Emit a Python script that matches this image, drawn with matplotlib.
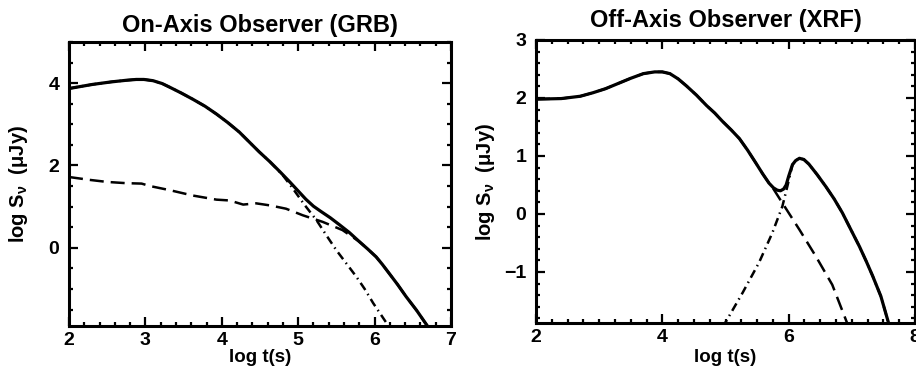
import matplotlib
matplotlib.use('Agg')
import matplotlib.pyplot as plt
from matplotlib.ticker import MultipleLocator

plt.rcParams['font.family'] = ['Liberation Sans', 'DejaVu Sans']
plt.rcParams['font.weight'] = 'bold'
plt.rcParams['mathtext.fontset'] = 'custom'
plt.rcParams['mathtext.rm'] = 'Liberation Sans:bold'
plt.rcParams['mathtext.it'] = 'Liberation Sans:bold'
plt.rcParams['axes.unicode_minus'] = True

# on-axis (GRB) curves
on_total_x = [2.0, 2.31, 2.55, 2.75, 2.88, 2.98, 3.1, 3.22, 3.32, 3.47, 3.62, 3.78, 3.93,
              4.08, 4.23, 4.36, 4.49, 4.63, 4.76, 4.89, 5.0, 5.1, 5.2, 5.3, 5.42, 5.54,
              5.67, 5.8, 5.91, 6.02, 6.1, 6.19, 6.3, 6.41, 6.55, 6.71]
on_total_y = [3.87, 3.97, 4.03, 4.07, 4.09, 4.09, 4.06, 3.99, 3.9, 3.76, 3.61, 3.44, 3.25,
              3.04, 2.81, 2.57, 2.33, 2.09, 1.85, 1.6, 1.38, 1.18, 1.01, 0.88, 0.73, 0.56,
              0.37, 0.15, -0.03, -0.22, -0.4, -0.62, -0.89, -1.18, -1.52, -1.95]
on_dash_x = [2.0, 2.27, 2.5, 2.75, 2.95, 3.06, 3.32, 3.62, 3.93, 4.1, 4.28, 4.45, 4.63,
             4.84, 5.06, 5.32, 5.58, 5.8, 5.91, 6.02, 6.1, 6.19, 6.3, 6.41, 6.55, 6.71]
on_dash_y = [1.72, 1.65, 1.6, 1.57, 1.56, 1.5, 1.4, 1.27, 1.17, 1.15, 1.05, 1.08, 1.03,
             0.95, 0.79, 0.63, 0.43, 0.15, -0.03, -0.22, -0.4, -0.62, -0.89, -1.18, -1.52,
             -1.95]
on_dd_x = [2.0, 2.31, 2.55, 2.75, 2.88, 2.98, 3.1, 3.22, 3.32, 3.47, 3.62, 3.78, 3.93,
           4.08, 4.23, 4.36, 4.49, 4.63, 4.8, 4.93, 5.08, 5.24, 5.37, 5.5, 5.63, 5.76,
           5.87, 5.98, 6.2]
on_dd_y = [3.87, 3.97, 4.03, 4.07, 4.09, 4.09, 4.06, 3.99, 3.9, 3.76, 3.61, 3.44, 3.25,
           3.04, 2.81, 2.57, 2.33, 2.09, 1.76, 1.44, 1.05, 0.67, 0.3, -0.06, -0.38, -0.7,
           -1.0, -1.34, -1.95]

# off-axis (XRF) curves
off_total_x = [2.0, 2.4, 2.7, 2.9, 3.1, 3.3, 3.5, 3.7, 3.88, 4.0, 4.12, 4.25, 4.38, 4.54,
               4.7, 4.83, 4.95, 5.09, 5.22, 5.35, 5.48, 5.59, 5.69, 5.76, 5.82, 5.87,
               5.92, 5.96, 6.0, 6.06, 6.11, 6.17, 6.24, 6.32, 6.45, 6.59, 6.72, 6.85,
               6.98, 7.12, 7.23, 7.33, 7.46, 7.6]
off_total_y = [1.98, 1.99, 2.03, 2.09, 2.16, 2.25, 2.34, 2.42, 2.45, 2.45, 2.42, 2.33, 2.21,
               2.05, 1.87, 1.74, 1.6, 1.45, 1.3, 1.1, 0.88, 0.69, 0.53, 0.45, 0.41, 0.4,
               0.43, 0.5, 0.65, 0.85, 0.92, 0.96, 0.94, 0.86, 0.68, 0.47, 0.26, 0.02,
               -0.26, -0.56, -0.82, -1.07, -1.42, -1.95]
off_dash_x = [2.0, 2.4, 2.7, 2.9, 3.1, 3.3, 3.5, 3.7, 3.88, 4.0, 4.12, 4.25, 4.38, 4.54,
              4.7, 4.83, 4.95, 5.09, 5.22, 5.35, 5.48, 5.59, 5.69, 5.76, 5.9, 6.17,
              6.43, 6.69, 6.95]
off_dash_y = [1.98, 1.99, 2.03, 2.09, 2.16, 2.25, 2.34, 2.42, 2.45, 2.45, 2.42, 2.33, 2.21,
              2.05, 1.87, 1.74, 1.6, 1.45, 1.3, 1.1, 0.88, 0.69, 0.53, 0.43, 0.19, -0.27,
              -0.73, -1.22, -1.95]
off_dd_x = [4.95, 5.01, 5.27, 5.53, 5.74, 5.9, 5.98, 6.06, 6.11, 6.17, 6.24, 6.32, 6.45,
            6.59, 6.72, 6.85, 6.98, 7.12, 7.23, 7.33, 7.46, 7.6]
off_dd_y = [-1.95, -1.85, -1.36, -0.84, -0.33, 0.13, 0.48, 0.85, 0.92, 0.96, 0.94, 0.86,
            0.68, 0.47, 0.26, 0.02, -0.26, -0.56, -0.82, -1.07, -1.42, -1.95]

fig = plt.figure(figsize=(9.16, 3.72), dpi=100)
ax1 = fig.add_axes([69/916, 1-326/372, 382/916, 284/372])
ax2 = fig.add_axes([536/916, 1-323/372, 379/916, 283/372])

dash = (0, (5.6, 2.8))
dashdot = (0, (3.4, 1.8, 0.6, 1.8))

ax1.plot(on_dd_x, on_dd_y, color='black', lw=1.8, ls=dashdot, zorder=2)
ax1.plot(on_dash_x, on_dash_y, color='black', lw=1.8, ls=dash, zorder=3)
ax1.plot(on_total_x, on_total_y, color='black', lw=2.3, zorder=4)

ax2.plot(off_dd_x, off_dd_y, color='black', lw=1.8, ls=dashdot, zorder=2)
ax2.plot(off_dash_x, off_dash_y, color='black', lw=1.8, ls=dash, zorder=3)
ax2.plot(off_total_x, off_total_y, color='black', lw=2.3, zorder=4)

ax1.set_xlim(2, 7)
ax1.set_ylim(-1.9, 5)
ax1.xaxis.set_major_locator(MultipleLocator(1))
ax1.xaxis.set_minor_locator(MultipleLocator(0.2))
ax1.yaxis.set_major_locator(MultipleLocator(2))
ax1.yaxis.set_minor_locator(MultipleLocator(0.5))

ax2.set_xlim(2, 8)
ax2.set_ylim(-1.88, 3)
ax2.xaxis.set_major_locator(MultipleLocator(2))
ax2.xaxis.set_minor_locator(MultipleLocator(0.25))
ax2.yaxis.set_major_locator(MultipleLocator(1))
ax2.yaxis.set_minor_locator(MultipleLocator(0.2))

for ax in (ax1, ax2):
    for s in ax.spines.values():
        s.set_linewidth(2.2)
    ax.tick_params(which='both', direction='in', top=True, right=True, width=1.6)
    ax.tick_params(which='major', length=6.5, labelsize=14)
    ax.tick_params(which='minor', length=3.2)
    ax.tick_params(axis='y', pad=7)
    ax.tick_params(axis='x', pad=4)
    ax.set_xlabel('log t(s)', fontsize=13.5, fontweight='bold')
    ax.set_ylabel(r'log S$_\nu$  (μJy)', fontsize=14.5, fontweight='bold')
    ax.yaxis.set_label_coords(-0.102, 0.5)

ax1.xaxis.set_label_coords(0.5, -0.08)
ax2.xaxis.set_label_coords(0.5, -0.092)
ax1.set_title('On-Axis Observer (GRB)', fontsize=17, fontweight='bold', pad=7)
ax2.set_title('Off-Axis Observer (XRF)', fontsize=17, fontweight='bold', pad=9)

fig.savefig('out.png', dpi=100)
